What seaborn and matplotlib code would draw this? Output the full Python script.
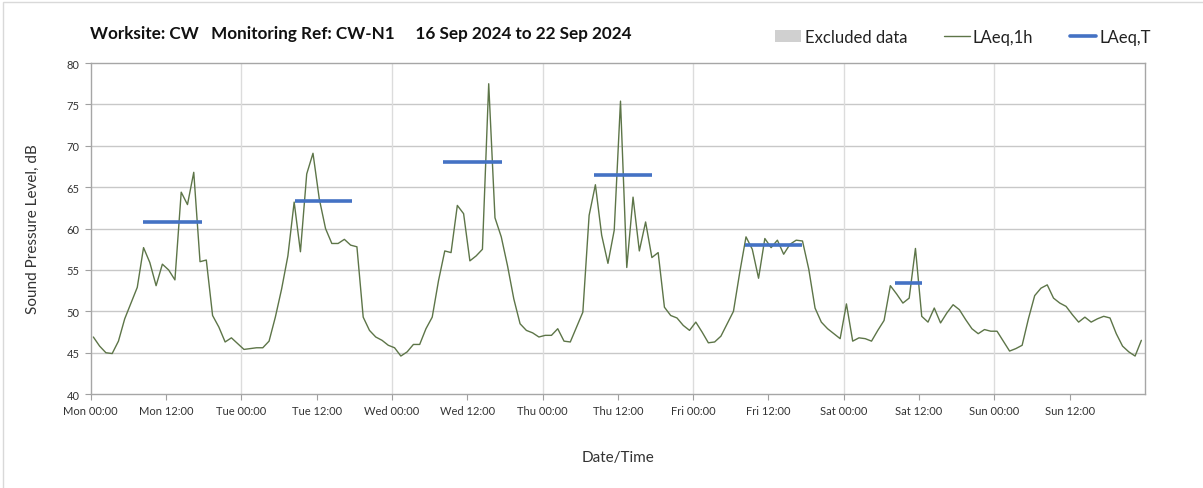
import numpy as np
import pandas as pd
import seaborn as sns
import matplotlib.pyplot as plt
from matplotlib.patches import Patch, Rectangle
from matplotlib.lines import Line2D

# hourly LAeq,1h readings, Mon 16 Sep 00:00 -> Sun 22 Sep 24:00
laeq_1h = [
    46.9, 45.8, 45.0, 44.9, 46.4, 49.1, 51.0, 52.9, 57.7, 55.9, 53.1, 55.7,
    55.0, 53.8, 64.4, 62.9, 66.8, 56.0, 56.2, 49.5, 48.1, 46.3, 46.8, 46.1,
    45.4, 45.5, 45.6, 45.6, 46.4, 49.3, 52.7, 56.7, 63.2, 57.2, 66.6, 69.1,
    63.6, 60.0, 58.2, 58.2, 58.7, 58.0, 57.8, 49.3, 47.7, 46.9, 46.5, 45.9,
    45.6, 44.6, 45.1, 46.0, 46.0, 47.9, 49.3, 53.7, 57.3, 57.1, 62.8, 61.8,
    56.1, 56.7, 57.5, 77.5, 61.3, 59.0, 55.5, 51.5, 48.5, 47.7, 47.4, 46.9,
    47.1, 47.1, 47.9, 46.4, 46.3, 48.1, 49.9, 61.6, 65.3, 59.2, 55.8, 59.8,
    75.4, 55.3, 63.8, 57.3, 60.8, 56.5, 57.1, 50.5, 49.5, 49.2, 48.3, 47.7,
    48.7, 47.5, 46.2, 46.3, 47.0, 48.5, 50.0, 54.7, 59.0, 57.5, 54.0, 58.8,
    57.7, 58.6, 56.9, 58.1, 58.6, 58.5, 55.1, 50.4, 48.7, 47.9, 47.3, 46.7,
    50.9, 46.4, 46.8, 46.7, 46.4, 47.7, 48.9, 53.1, 52.1, 51.0, 51.6, 57.6,
    49.4, 48.7, 50.4, 48.6, 49.8, 50.8, 50.2, 49.0, 47.9, 47.3, 47.8, 47.6,
    47.6, 46.4, 45.2, 45.5, 45.9, 49.1, 51.9, 52.8, 53.2, 51.6, 51.0, 50.6,
    49.6, 48.7, 49.3, 48.7, 49.1, 49.4, 49.2, 47.3, 45.8, 45.1, 44.6, 46.5,
]

# LAeq,T period levels (start hour, end hour, level)
laeq_t_start = [8.4, 32.5, 56.2, 80.2, 104.2, 128.1]
laeq_t_end = [17.8, 41.6, 65.5, 89.4, 113.4, 132.4]
laeq_t_level = [60.8, 63.3, 68.1, 66.5, 58.0, 53.4]

tick_labels = ['Mon 00:00', 'Mon 12:00', 'Tue 00:00', 'Tue 12:00', 'Wed 00:00',
               'Wed 12:00', 'Thu 00:00', 'Thu 12:00', 'Fri 00:00', 'Fri 12:00',
               'Sat 00:00', 'Sat 12:00', 'Sun 00:00', 'Sun 12:00']

df = pd.DataFrame({'hour': np.arange(len(laeq_1h)) + 0.42, 'LAeq,1h': laeq_1h})

sns.set_style('white')
plt.rcParams['font.family'] = ['Lato', 'DejaVu Sans']

line_col = '#5d7548'
blue = '#4472c4'
grid_col = '#c8c8c8'

fig = plt.figure(figsize=(12.03, 4.89), dpi=100)
ax = fig.add_axes([0.0754, 0.192, 0.8764, 0.677])

# light border round the chart area
fig.patches.append(Rectangle((0.0025, -0.05), 1.2, 1.044, transform=fig.transFigure,
                             fill=False, edgecolor='#d9d9d9', linewidth=1))

sns.lineplot(data=df, x='hour', y='LAeq,1h', ax=ax, color=line_col, linewidth=1.0)
ax.hlines(laeq_t_level, laeq_t_start, laeq_t_end, colors=blue, linewidth=2.6)

ax.set_xlim(0, 168)
ax.set_ylim(40, 80)
ax.set_yticks(range(40, 81, 5))
ax.set_xticks(range(0, 168, 12))
ax.set_xticklabels(tick_labels, fontsize=8, color='#333333')
ax.tick_params(axis='y', labelsize=8, labelcolor='#333333')
ax.tick_params(axis='both', direction='out', length=4, color='#a0a0a0', width=0.8,
               bottom=True, left=True, pad=4)

for y in range(45, 80, 5):
    ax.axhline(y, color=grid_col, linewidth=1.0, zorder=0)
for x in range(24, 168, 24):
    ax.axvline(x, color='#dcdcdc', linewidth=1.0, zorder=0)
for s in ax.spines.values():
    s.set_color('#a6a6a6')
    s.set_linewidth(1.0)

ax.set_xlabel('Date/Time', fontsize=11, color='#333333', labelpad=24)
ax.set_ylabel('Sound Pressure Level, dB', fontsize=11, color='#333333', labelpad=19)

fig.text(0.0745, 0.93, 'Worksite: CW   Monitoring Ref: CW-N1     16 Sep 2024 to 22 Sep 2024',
         fontsize=12.3, fontweight='bold', color='#111111', va='center')

handles = [Patch(facecolor='#d0d0d0', edgecolor='none'),
           Line2D([], [], color=line_col, linewidth=1.0),
           Line2D([], [], color=blue, linewidth=2.6)]
fig.legend(handles, ['Excluded data', 'LAeq,1h', 'LAeq,T'], loc='center right',
           bbox_to_anchor=(0.969, 0.922), ncol=3, frameon=False, fontsize=12,
           handlelength=1.55, handletextpad=0.2, columnspacing=2.2,
           labelcolor='#222222')

plt.savefig('out.png', dpi=100)
